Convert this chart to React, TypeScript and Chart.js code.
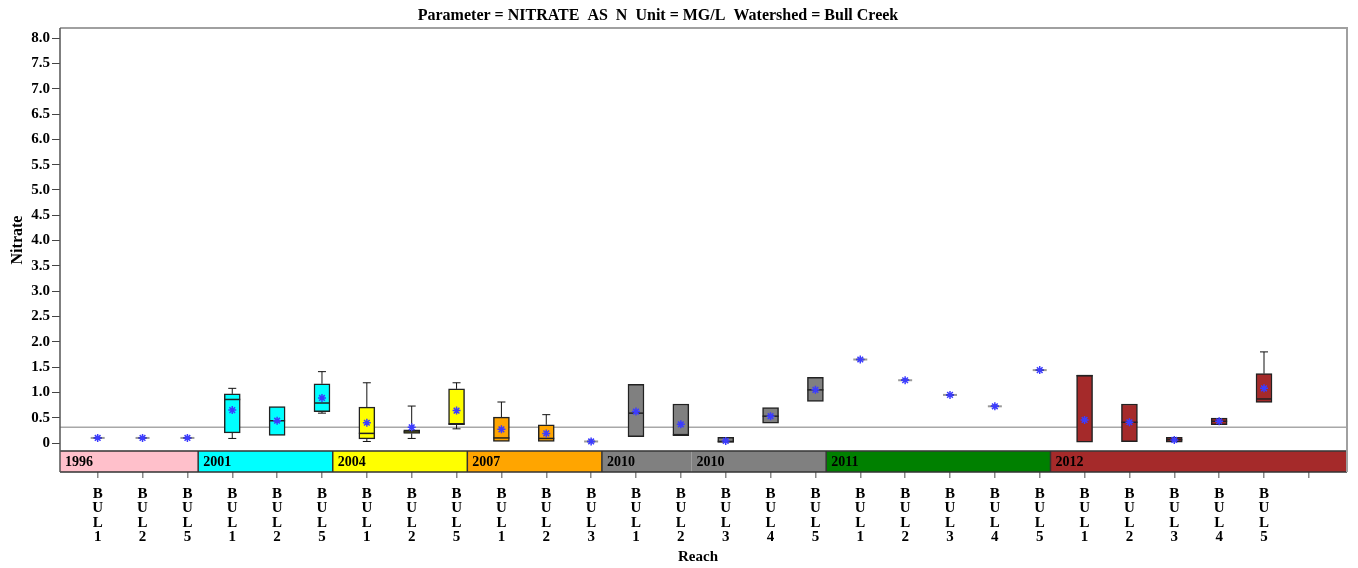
import React, { useEffect, useRef } from 'react';
import { Chart, registerables } from 'chart.js';

Chart.register(...registerables);

// ---- data ----
const reachLabels = [
  'BUL1', 'BUL2', 'BUL5',
  'BUL1', 'BUL2', 'BUL5',
  'BUL1', 'BUL2', 'BUL5',
  'BUL1', 'BUL2', 'BUL3',
  'BUL1', 'BUL2', 'BUL3', 'BUL4', 'BUL5',
  'BUL1', 'BUL2', 'BUL3', 'BUL4', 'BUL5',
  'BUL1', 'BUL2', 'BUL3', 'BUL4', 'BUL5',
];
const categoryYears = [
  '1996', '1996', '1996',
  '2001', '2001', '2001',
  '2004', '2004', '2004',
  '2007', '2007', '2007',
  '2010', '2010', '2010', '2010', '2010',
  '2011', '2011', '2011', '2011', '2011',
  '2012', '2012', '2012', '2012', '2012',
];
const whiskerLow = [0.1, 0.1, 0.1, 0.09, 0.15, 0.59, 0.03, 0.09, 0.28, 0.03, 0.03, 0.03, 0.125, 0.145, 0.01, 0.39, 0.82, 1.65, 1.24, 0.95, 0.725, 1.44, 0.015, 0.025, 0.015, 0.36, 0.8];
const quart1 = [0.1, 0.1, 0.1, 0.2, 0.15, 0.62, 0.08, 0.19, 0.36, 0.03, 0.03, 0.03, 0.125, 0.145, 0.01, 0.39, 0.82, 1.65, 1.24, 0.95, 0.725, 1.44, 0.015, 0.025, 0.015, 0.36, 0.8];
const medians = [0.1, 0.1, 0.1, 0.86, 0.44, 0.79, 0.19, 0.22, 0.38, 0.1, 0.09, 0.03, 0.59, 0.165, 0.03, 0.53, 1.05, 1.65, 1.24, 0.95, 0.725, 1.44, 1.33, 0.41, 0.065, 0.43, 0.87];
const quart3 = [0.1, 0.1, 0.1, 0.97, 0.72, 1.17, 0.71, 0.26, 1.07, 0.51, 0.36, 0.03, 1.16, 0.77, 0.11, 0.7, 1.3, 1.65, 1.24, 0.95, 0.725, 1.44, 1.34, 0.77, 0.11, 0.49, 1.37];
const whiskerHigh = [0.1, 0.1, 0.1, 1.08, 0.72, 1.41, 1.19, 0.73, 1.19, 0.81, 0.56, 0.03, 1.16, 0.77, 0.11, 0.7, 1.3, 1.65, 1.24, 0.95, 0.725, 1.44, 1.34, 0.77, 0.11, 0.49, 1.8];
const means = [0.1, 0.1, 0.1, 0.65, 0.44, 0.89, 0.4, 0.31, 0.64, 0.27, 0.19, 0.03, 0.62, 0.37, 0.04, 0.53, 1.05, 1.65, 1.24, 0.95, 0.725, 1.44, 0.455, 0.41, 0.06, 0.43, 1.08];

const yTickValues = [0, 0.5, 1, 1.5, 2, 2.5, 3, 3.5, 4, 4.5, 5, 5.5, 6, 6.5, 7, 7.5, 8];
const referenceValue = 0.31;

const bandYears = ['1996', '2001', '2004', '2007', '2010', '2010', '2011', '2012'];
const bandCounts = [3, 3, 3, 3, 2, 3, 5, 5];
const yearColors: Record<string, string> = {
  '1996': '#FFC0CB',
  '2001': '#00FFFF',
  '2004': '#FFFF00',
  '2007': '#FFA500',
  '2010': '#808080',
  '2011': '#008000',
  '2012': '#A52A2A',
};

const chartTitle = 'Parameter = NITRATE  AS  N  Unit = MG/L  Watershed = Bull Creek';
const xTitle = 'Reach';
const yTitle = 'Nitrate';

// ---- layout constants ----
const FONT = '"Liberation Serif", "Times New Roman", serif';
const X_MIN = -0.84;
const X_MAX = 27.85;
const Y_MIN = -0.573;
const Y_MAX = 8.2;
const BAND_TOP = -0.16;
const BAND_SHIFT = 0.24;

const decorPlugin = {
  id: 'decor',
  beforeDatasetsDraw(chart: any) {
    const { ctx, chartArea } = chart;
    const xs = chart.scales.x;
    const ys = chart.scales.y;
    ctx.save();
    // reference line
    const ry = ys.getPixelForValue(referenceValue);
    ctx.strokeStyle = '#A8A8A8';
    ctx.lineWidth = 1.5;
    ctx.beginPath();
    ctx.moveTo(chartArea.left, ry);
    ctx.lineTo(chartArea.right, ry);
    ctx.stroke();

    // band
    const top = ys.getPixelForValue(BAND_TOP);
    const bottom = chartArea.bottom;
    let idx = 0;
    let startVal = X_MIN;
    const segs: any[] = [];
    bandYears.forEach((yr, k) => {
      idx += bandCounts[k];
      const endVal = k === bandYears.length - 1 ? X_MAX : idx - 1 + BAND_SHIFT;
      segs.push({ yr, s: startVal, e: endVal });
      startVal = endVal;
    });
    segs.forEach((sg) => {
      const x0 = xs.getPixelForValue(sg.s);
      const x1 = xs.getPixelForValue(sg.e);
      ctx.fillStyle = yearColors[sg.yr];
      ctx.fillRect(x0, top, x1 - x0, bottom - top);
    });
    ctx.strokeStyle = '#333';
    ctx.lineWidth = 1.5;
    ctx.beginPath();
    ctx.moveTo(chartArea.left, top);
    ctx.lineTo(chartArea.right, top);
    ctx.moveTo(chartArea.left, bottom);
    ctx.lineTo(chartArea.right, bottom);
    segs.forEach((sg, k) => {
      if (k > 0 && segs[k - 1].yr !== sg.yr) {
        const x0 = xs.getPixelForValue(sg.s);
        ctx.moveTo(x0, top);
        ctx.lineTo(x0, bottom);
      }
    });
    ctx.stroke();
    ctx.fillStyle = '#000';
    ctx.font = `bold 14px ${FONT}`;
    ctx.textAlign = 'left';
    ctx.textBaseline = 'middle';
    segs.forEach((sg) => {
      const x0 = xs.getPixelForValue(sg.s);
      ctx.fillText(sg.yr, x0 + 5, (top + bottom) / 2 + 1);
    });

    // whiskers
    ctx.strokeStyle = '#111';
    ctx.lineWidth = 1;
    reachLabels.forEach((_, i) => {
      const x = xs.getPixelForValue(i);
      const lo = ys.getPixelForValue(whiskerLow[i]);
      const q1 = ys.getPixelForValue(quart1[i]);
      const q3 = ys.getPixelForValue(quart3[i]);
      const hi = ys.getPixelForValue(whiskerHigh[i]);
      ctx.beginPath();
      if (whiskerHigh[i] > quart3[i]) {
        ctx.moveTo(x, q3);
        ctx.lineTo(x, hi);
        ctx.moveTo(x - 4, hi);
        ctx.lineTo(x + 4, hi);
      }
      if (whiskerLow[i] < quart1[i]) {
        ctx.moveTo(x, q1);
        ctx.lineTo(x, lo);
        ctx.moveTo(x - 4, lo);
        ctx.lineTo(x + 4, lo);
      }
      ctx.stroke();
    });
    ctx.restore();
  },
  afterDatasetDraw(chart: any, args: any) {
    if (args.meta.type !== 'bar') return;
    const { ctx } = chart;
    const xs = chart.scales.x;
    const ys = chart.scales.y;
    ctx.save();
    reachLabels.forEach((_, i) => {
      const x = xs.getPixelForValue(i);
      const m = ys.getPixelForValue(medians[i]);
      const single = quart1[i] === quart3[i];
      if (single) {
        ctx.strokeStyle = '#999';
        ctx.lineWidth = 2;
        ctx.beginPath();
        ctx.moveTo(x - 7, m);
        ctx.lineTo(x + 7, m);
        ctx.stroke();
        ctx.strokeStyle = '#222';
        ctx.lineWidth = 1.5;
        ctx.beginPath();
        ctx.moveTo(x - 4, m);
        ctx.lineTo(x + 4, m);
        ctx.stroke();
      } else {
        ctx.strokeStyle = '#222';
        ctx.lineWidth = 1.5;
        ctx.beginPath();
        ctx.moveTo(x - 8, m);
        ctx.lineTo(x + 8, m);
        ctx.stroke();
      }
    });
    ctx.restore();
  },
  afterDraw(chart: any) {
    const { ctx, chartArea } = chart;
    ctx.save();
    ctx.strokeStyle = '#A0A0A0';
    ctx.lineWidth = 2;
    ctx.beginPath();
    ctx.moveTo(chartArea.left, chartArea.top);
    ctx.lineTo(chartArea.right, chartArea.top);
    ctx.lineTo(chartArea.right, chartArea.bottom);
    ctx.stroke();
    ctx.strokeStyle = '#555';
    ctx.lineWidth = 1.5;
    ctx.beginPath();
    ctx.moveTo(chartArea.left, chartArea.top);
    ctx.lineTo(chartArea.left, chartArea.bottom);
    ctx.stroke();
    ctx.fillStyle = '#000';
    ctx.textBaseline = 'middle';
    ctx.textAlign = 'center';
    ctx.font = `bold 16px ${FONT}`;
    ctx.fillText(chartTitle, 658, 16);
    ctx.font = `bold 15px ${FONT}`;
    ctx.fillText(xTitle, 698, 557);
    ctx.translate(18, 240);
    ctx.rotate(-Math.PI / 2);
    ctx.font = `bold 16px ${FONT}`;
    ctx.fillText(yTitle, 0, 0);
    ctx.restore();
  },
};

export default function App() {
  const ref = useRef<HTMLCanvasElement>(null);
  useEffect(() => {
    if (!ref.current) return;
    const boxIdx = reachLabels.map((_, i) => i).filter((i) => quart1[i] !== quart3[i]);
    const chart = new Chart(ref.current, {
      type: 'bar',
      data: {
        datasets: [
          {
            type: 'bar',
            order: 2,
            data: boxIdx.map((i) => ({ x: i, y: [quart1[i], quart3[i]] })) as any,
            backgroundColor: boxIdx.map((i) => yearColors[categoryYears[i]]),
            borderColor: '#222',
            borderWidth: 1.5,
            borderSkipped: false,
            barThickness: 16,
          } as any,
          {
            type: 'scatter',
            order: 1,
            data: means.map((v, i) => ({ x: i, y: v })),
            pointStyle: 'star',
            radius: 4,
            borderColor: '#3C3CFF',
            backgroundColor: '#3C3CFF',
            borderWidth: 1.5,
          } as any,
        ],
      },
      options: {
        animation: false,
        responsive: false,
        events: [],
        layout: { padding: { top: 28, right: 11, left: 0, bottom: 0 } },
        plugins: { legend: { display: false }, tooltip: { enabled: false }, title: { display: false } },
        scales: {
          x: {
            type: 'linear',
            min: X_MIN,
            max: X_MAX,
            offset: false,
            border: { display: false },
            grid: { display: true, offset: false, drawOnChartArea: false, drawTicks: true, tickLength: 6, color: '#888', lineWidth: 1.5 },
            afterBuildTicks: (scale: any) => {
              scale.ticks = reachLabels.concat(['']).map((_, i) => ({ value: i }));
            },
            afterFit: (scale: any) => {
              scale.height = 96;
            },
            ticks: {
              autoSkip: false,
              maxRotation: 0,
              minRotation: 0,
              padding: 9,
              color: '#000',
              font: { family: FONT, size: 15, weight: 'bold', lineHeight: 0.95 },
              callback: (v: any) => {
                const lab = reachLabels[v as number];
                return lab ? lab.split('') : '';
              },
            },
          },
          y: {
            type: 'linear',
            min: Y_MIN,
            max: Y_MAX,
            border: { display: false },
            grid: { display: true, drawOnChartArea: false, drawTicks: true, tickLength: 8, color: '#444', lineWidth: 1 },
            afterBuildTicks: (scale: any) => {
              scale.ticks = yTickValues.map((v) => ({ value: v }));
            },
            afterFit: (scale: any) => {
              scale.width = 60;
            },
            ticks: {
              padding: 2,
              color: '#000',
              font: { family: FONT, size: 15, weight: 'bold' },
              callback: (v: any) => (v === 0 ? '0' : Number(v).toFixed(1)),
            },
          },
        },
      } as any,
      plugins: [decorPlugin],
    });
    return () => chart.destroy();
  }, []);
  return (
    <div style={{ position: 'fixed', left: 0, top: 0, width: 1358, height: 568, background: '#fff' }}>
      <canvas ref={ref} width={1358} height={568} style={{ display: 'block' }} />
    </div>
  );
}
